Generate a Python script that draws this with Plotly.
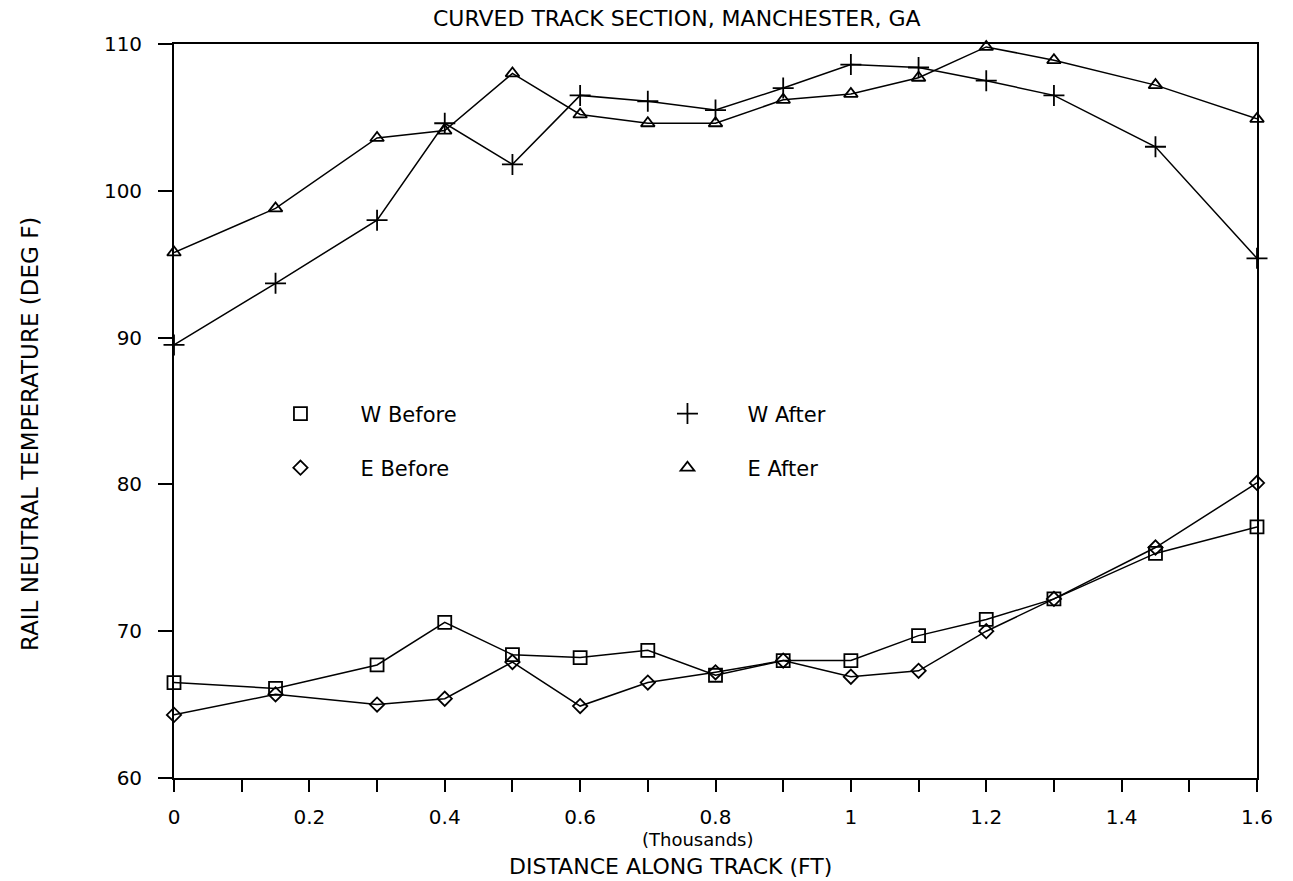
import plotly.graph_objects as go

# Distance along the track, in thousands of feet
distance = [0, 0.15, 0.3, 0.4, 0.5, 0.6, 0.7, 0.8, 0.9, 1.0, 1.1, 1.2, 1.3, 1.45, 1.6]

# Rail neutral temperature (deg F) for each rail, before and after
w_before = [66.5, 66.1, 67.7, 70.6, 68.4, 68.2, 68.7, 67.0, 68.0, 68.0, 69.7, 70.8, 72.2, 75.3, 77.1]
e_before = [64.3, 65.7, 65.0, 65.4, 67.9, 64.9, 66.5, 67.2, 68.0, 66.9, 67.3, 70.0, 72.2, 75.7, 80.1]
w_after = [89.5, 93.7, 98.0, 104.6, 101.8, 106.5, 106.1, 105.5, 107.0, 108.6, 108.4, 107.5, 106.5, 103.0, 95.4]
e_after = [95.8, 98.8, 103.6, 104.1, 108.0, 105.2, 104.6, 104.6, 106.2, 106.6, 107.7, 109.8, 108.9, 107.2, 104.9]

x_tickvals = [0, 0.2, 0.4, 0.6, 0.8, 1.0, 1.2, 1.4, 1.6]
x_ticktext = ["0", "0.2", "0.4", "0.6", "0.8", "1", "1.2", "1.4", "1.6"]
y_tickvals = [60, 70, 80, 90, 100, 110]

FONT = "DejaVu Sans"
INK = "black"
PAD = "\u00a0" * 6

series = [
    ("W Before", w_before, "square-open", 13, "legend"),
    ("W After", w_after, "cross-thin-open", 15, "legend"),
    ("E Before", e_before, "diamond-open", 11, "legend2"),
    ("E After", e_after, "triangle-up-open", 12, "legend2"),
]

fig = go.Figure()
for name, vals, symbol, size, leg in series:
    # the curve itself
    fig.add_trace(go.Scatter(
        x=distance, y=vals, mode="lines+markers", name=name,
        line=dict(color=INK, width=1.5),
        marker=dict(symbol=symbol, size=size, color=INK,
                    line=dict(color=INK, width=1.8)),
        cliponaxis=False, showlegend=False,
    ))
    # symbol-only key entry
    fig.add_trace(go.Scatter(
        x=[None], y=[None], mode="markers", name=PAD + name,
        marker=dict(symbol=symbol, size=size, color=INK,
                    line=dict(color=INK, width=1.8)),
        legend=leg, showlegend=True,
    ))

legend_common = dict(
    orientation="h", xanchor="left", yanchor="middle",
    bgcolor="rgba(0,0,0,0)", borderwidth=0,
    font=dict(family=FONT, size=21, color=INK),
    entrywidth=342, entrywidthmode="pixels", itemclick=False,
)

fig.update_layout(
    width=1293, height=881,
    margin=dict(l=174, r=36, t=44, b=103),
    paper_bgcolor="white", plot_bgcolor="white",
    font=dict(family=FONT, size=20, color=INK),
    showlegend=True,
    legend=dict(x=0.0983, y=0.496, **legend_common),
    legend2=dict(x=0.0983, y=0.4223, **legend_common),
    xaxis=dict(
        range=[0, 1.6], tickvals=x_tickvals, ticktext=x_ticktext,
        ticks="outside", ticklen=12, tickwidth=1.5, tickcolor=INK,
        minor=dict(dtick=0.1, tick0=0, ticks="outside", ticklen=12,
                   tickwidth=1.5, tickcolor=INK, showgrid=False),
        showline=True, linewidth=1.8, linecolor=INK, mirror=True,
        showgrid=False, zeroline=False, ticklabelstandoff=8,
        tickfont=dict(family=FONT, size=20, color=INK),
    ),
    yaxis=dict(
        range=[60, 110], tickvals=y_tickvals,
        ticks="outside", ticklen=14, tickwidth=1.5, tickcolor=INK,
        showline=True, linewidth=1.8, linecolor=INK, mirror=True,
        showgrid=False, zeroline=False, ticklabelstandoff=12,
        tickfont=dict(family=FONT, size=20, color=INK),
    ),
    annotations=[
        dict(text="CURVED TRACK SECTION, MANCHESTER, GA", xref="paper", yref="paper",
             x=0.4645, y=1.0, yshift=26, xanchor="center", yanchor="middle",
             showarrow=False, font=dict(family=FONT, size=22, color=INK)),
        dict(text="(Thousands)", xref="paper", yref="paper",
             x=0.4838, y=0, yshift=-61, xanchor="center", yanchor="middle",
             showarrow=False, font=dict(family=FONT, size=18, color=INK)),
        dict(text="DISTANCE ALONG TRACK (FT)", xref="paper", yref="paper",
             x=0.4589, y=0, yshift=-88, xanchor="center", yanchor="middle",
             showarrow=False, font=dict(family=FONT, size=22, color=INK)),
        dict(text="RAIL NEUTRAL TEMPERATURE (DEG F)", xref="paper", yref="paper",
             x=0, xshift=-144, y=0.4687, xanchor="center", yanchor="middle",
             textangle=-90, showarrow=False,
             font=dict(family=FONT, size=23, color=INK)),
    ],
)

fig.write_html("out.html")
